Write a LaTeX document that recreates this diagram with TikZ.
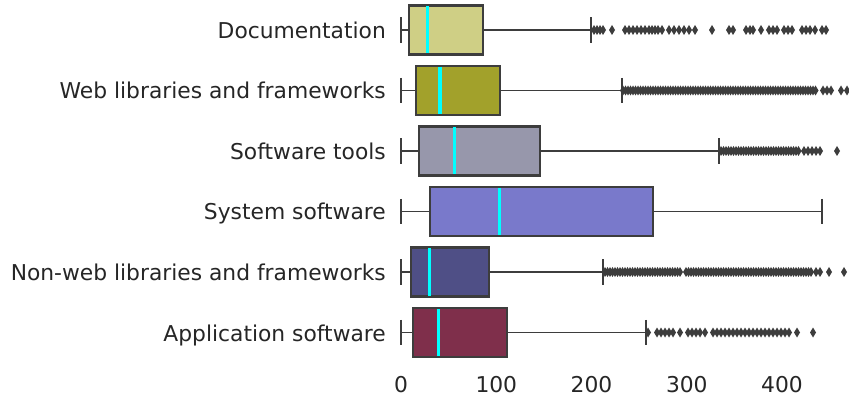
\documentclass[tikz,border=0pt]{standalone}
\usepackage{fontspec}
\setmainfont{DejaVu Sans}
\definecolor{edge}{HTML}{3D3D3D}
\definecolor{labc}{HTML}{262626}
\definecolor{cdoc}{HTML}{CFCF85}
\definecolor{cweb}{HTML}{A2A12B}
\definecolor{ctool}{HTML}{9797AB}
\definecolor{csys}{HTML}{7979CB}
\definecolor{cnon}{HTML}{4F4F86}
\definecolor{capp}{HTML}{7F2F4B}
\definecolor{med}{HTML}{00FFFF}
\tikzset{
  whisk/.style={draw=edge, line width=1.9pt},
  boxst/.style={draw=edge, line width=2.1pt},
  medst/.style={draw=med, line width=3.4pt},
  lab/.style={anchor=base east, text=labc, font=\fontsize{21.8}{26}\selectfont, inner sep=0pt},
  tick/.style={anchor=base, text=labc, font=\fontsize{21.8}{26}\selectfont, inner sep=0pt},
}
% #1 y, #2 q1, #3 median, #4 q3, #5 upper whisker, #6 colour
\newcommand\bxrow[6]{%
  \draw[whisk] (401,#1) -- (#2,#1);
  \draw[whisk] (#4,#1) -- (#5,#1);
  \draw[whisk] (401,#1-12.7) -- (401,#1+12.7);
  \draw[whisk] (#5,#1-12.7) -- (#5,#1+12.7);
  \filldraw[boxst, fill=#6] (#2,#1-24.5) rectangle (#4,#1+24.5);
  \draw[medst] (#3,#1-23.5) -- (#3,#1+23.5);
}
\newcommand\dmd[2]{\fill[edge] (#1,#2-5) -- (#1+3,#2) -- (#1,#2+5) -- (#1-3,#2) -- cycle;}
\begin{document}
\begin{tikzpicture}[x=1pt,y=-1pt]
\useasboundingbox (0,0) rectangle (849,398);
\fill[white] (0,0) rectangle (849,398);
% labels
\node[lab] (l1) at (386,38.5) {Documentation};
\node[lab] (l2) at (386,99) {Web libraries and frameworks};
\node[lab] (l3) at (386,159.5) {Software tools};
\node[lab] (l4) at (386,220) {System software};
\node[lab] (l5) at (386,280.5) {Non-web libraries and frameworks};
\node[lab] (l6) at (386,341) {Application software};
% ticks
\node[tick] (t0) at (401,392) {0};
\node[tick] (t1) at (496.3,392) {100};
\node[tick] (t2) at (591.5,392) {200};
\node[tick] (t3) at (686.8,392) {300};
\node[tick] (t4) at (782,392) {400};
% boxes
\bxrow{30}{409}{427.3}{483.3}{591.3}{cdoc}
\bxrow{90.5}{415.7}{440}{500}{622}{cweb}
\bxrow{151}{419}{454.3}{540}{719.3}{ctool}
\bxrow{211.5}{430.3}{499.3}{653.3}{822}{csys}
\bxrow{272}{410.7}{429.3}{489.3}{603.3}{cnon}
\bxrow{332.5}{412.7}{438.3}{507.3}{645.7}{capp}
% outliers
\foreach \x in {594,597,600,603,612,625,629,633,637,641,645,649,652,655,658,662,669,674,679,684,689,695,712,729,733,746,750,753,761,769,773,777,784,788,792,802,806,810,815,822,826} {\dmd{\x}{30}}
\foreach \x in {623,625.5,...,816,823,827,831,841,847} {\dmd{\x}{90.5}}
\foreach \x in {721,723.5,...,800,804,808,812,816,820,837} {\dmd{\x}{151}}
\foreach \x in {605,607.5,...,680,686,688.5,...,812,816,820,829,844} {\dmd{\x}{272}}
\foreach \x in {648,657,661,665,669,673,680,688,692,696,700,705,713,717,721,725,729,733,737,741,745,749,753,757,761,765,769,773,777,781,785,789,797,813} {\dmd{\x}{332.5}}
\end{tikzpicture}
\end{document}
